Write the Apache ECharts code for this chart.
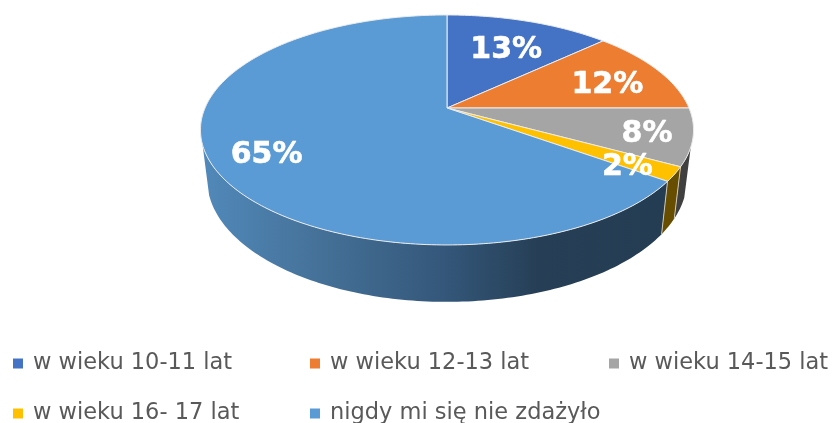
<!DOCTYPE html>
<html>
<head>
<meta charset="utf-8">
<style>
  html, body { margin: 0; padding: 0; background: #fff; }
  #chart { width: 832px; height: 423px; overflow: hidden; }
</style>
</head>
<body>
<div id="chart"></div>
<script src="https://cdn.jsdelivr.net/npm/echarts@6/dist/echarts.min.js"></script>
<script>
const categories = ['w wieku 10-11 lat', 'w wieku 12-13 lat', 'w wieku 14-15 lat', 'w wieku 16- 17 lat', 'nigdy mi się nie zdażyło']
const shares = [13, 12, 8, 2, 65]

const topColors = ['#4472c4', '#ed7d31', '#a5a5a5', '#ffc000', '#5b9bd5']
const wallColors = ['#29426f', '#8e4b1d', '#404040', '#664d00', null]
const labelReach = [0.69, 0.75, 0.82, 0.81, 0.78]
const labelDrop = [5, 6, 3, 7, 5]
const legendPos = [[13, 352], [310, 352], [609, 352], [13, 402], [310, 402]]

// perspective of the disc: k shrinks the back, top and bottom faces differ a bit
const cx = 447
const k = 0.191
const topFace = { a: 242, b: 110.8, y: 108 }
const bottomFace = { a: 235.5, b: 118, y: 156 }
const wallFrom = 109.3
const wallTo = 251.7

function project(face, deg, r) {
  const rad = (deg * Math.PI) / 180
  const X = r * Math.sin(rad)
  const Y = r * Math.cos(rad)
  const w = 1 + k * Y
  return [cx + (face.a * X) / w, face.y - (face.b * Y) / w]
}

function arc(face, from, to) {
  const pts = []
  const steps = Math.max(2, Math.ceil(to - from))
  for (let i = 0; i <= steps; i++) pts.push(project(face, from + ((to - from) * i) / steps, 1))
  return pts
}

const blueWall = new echarts.graphic.LinearGradient(0, 0, 1, 0, [
  { offset: 0, color: '#5189ba' },
  { offset: 0.25, color: '#457198' },
  { offset: 0.52, color: '#34577a' },
  { offset: 0.72, color: '#263f56' },
  { offset: 1, color: '#243d53' }
])

function renderSlice(params, api) {
  const i = params.seriesIndex
  const from = api.value(0) * 3.6
  const to = (api.value(0) + api.value(1)) * 3.6
  const children = []

  const wa = Math.max(from, wallFrom)
  const wb = Math.min(to, wallTo)
  if (wa < wb) {
    const upper = arc(topFace, wa, wb)
    const lower = arc(bottomFace, wa, wb).reverse()
    children.push({
      type: 'polygon',
      shape: { points: upper.concat(lower) },
      style: { fill: wallColors[i] || blueWall, stroke: null }
    })
    const edge = { stroke: '#cfc7b4', lineWidth: 1 }
    if (from > wallFrom) {
      children.push({
        type: 'polyline',
        shape: { points: [project(topFace, from, 1), project(bottomFace, from, 1)] },
        style: edge,
        z2: 5
      })
    }
  }

  children.push({
    type: 'polygon',
    shape: { points: [[cx, topFace.y]].concat(arc(topFace, from, to)) },
    style: { fill: topColors[i], stroke: '#ececec', lineWidth: 1, lineJoin: 'round' },
    z2: 10
  })

  const mid = project(topFace, (from + to) / 2, labelReach[i])
  children.push({
    type: 'text',
    style: {
      text: api.value(1) + '%',
      x: mid[0],
      y: mid[1] + labelDrop[i],
      fill: '#fff',
      stroke: '#fff',
      lineWidth: 0.6,
      font: 'bold 30px "DejaVu Sans"',
      textAlign: 'center',
      textVerticalAlign: 'middle'
    },
    z2: 100
  })

  return { type: 'group', children }
}

let running = 0
const series = categories.map((name, i) => {
  const start = running
  running += shares[i]
  return {
    name,
    type: 'custom',
    coordinateSystem: 'none',
    silent: true,
    itemStyle: { color: topColors[i] },
    renderItem: renderSlice,
    data: [[start, shares[i]]]
  }
})

const chart = echarts.init(document.getElementById('chart'))

chart.setOption({
  backgroundColor: '#fff',
  animation: false,
  legend: categories.map((name, i) => ({
    data: [{ name, icon: 'rect', itemStyle: { color: topColors[i] } }],
    left: legendPos[i][0],
    top: legendPos[i][1],
    padding: 0,
    itemWidth: 10,
    itemHeight: 10,
    itemGap: 0,
    selectedMode: false,
    textStyle: { color: '#595959', fontSize: 22.5, fontFamily: 'DejaVu Sans', padding: [0, 0, 0, 5] }
  })),
  series
})
</script>
</body>
</html>
